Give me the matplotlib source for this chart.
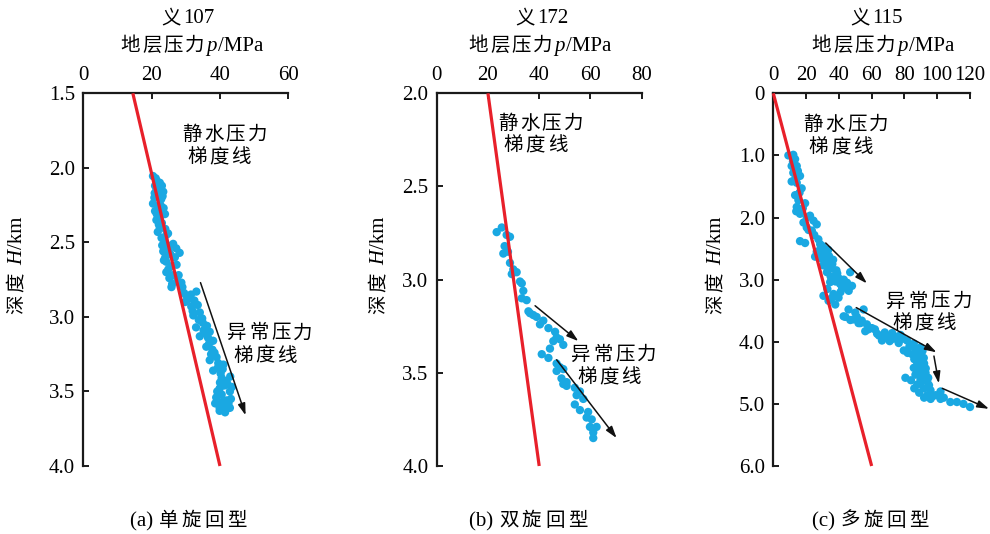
import matplotlib
matplotlib.use("Agg")
import matplotlib.pyplot as plt
from matplotlib.font_manager import FontProperties

# ---------------- data ----------------
# panel (a) 义107
a_p = [20.4,21.2,22.4,21.0,23.0,21.4,23.4,22.2,20.8,22.8,20.4,21.9,23.5,21.0,23.9,22.5,21.4,23.0,22.4,24.0,
       21.8,24.3,22.9,23.8,26.3,24.6,27.2,23.4,28.2,25.5,24.0,24.3,27.3,25.8,24.3,26.3,25.2,28.7,27.5,25.8,
       29.0,30.2,33.1,31.5,29.8,32.5,31.6,33.5,34.1,32.2,35.0,33.8,36.2,37.0,35.2,34.1,38.0,36.5,36.0,37.8,
       39.0,37.4,37.0,41.0,39.5,38.0,40.2,41.9,40.5,43.0,39.9,42.9,41.3,38.9,40.5,41.9,43.2,39.9,42.9,41.0,
       39.9,41.5,38.6,
       21.6,22.0,20.9,22.6,23.2,21.5,22.1,24.8,23.1,25.0,26.8,24.9,23.6,26.0,27.9,29.5,30.8,32.0,33.0,34.8,
       35.8,36.8,38.4,39.4,40.8,42.2,40.0,42.5,39.2,41.2,43.5,40.6]
a_H = [2.055,2.07,2.10,2.12,2.12,2.15,2.16,2.18,2.20,2.21,2.24,2.27,2.27,2.29,2.31,2.33,2.35,2.37,2.40,2.41,
       2.43,2.45,2.47,2.49,2.51,2.52,2.54,2.56,2.57,2.58,2.60,2.63,2.65,2.66,2.70,2.72,2.74,2.77,2.76,2.80,
       2.80,2.86,2.83,2.85,2.90,2.89,2.93,2.92,2.97,2.99,3.04,3.02,3.06,3.10,3.09,3.13,3.16,3.14,3.20,3.22,
       3.27,3.25,3.29,3.32,3.31,3.36,3.38,3.43,3.41,3.40,3.48,3.50,3.46,3.54,3.52,3.56,3.55,3.61,3.61,3.59,
       3.63,3.64,3.58,
       2.09,2.14,2.17,2.25,2.19,2.31,2.38,2.44,2.52,2.55,2.60,2.68,2.62,2.78,2.72,2.84,2.88,2.96,3.07,3.01,
       3.11,3.18,3.24,3.34,3.35,3.45,3.44,3.58,3.50,3.62,3.47,3.57]

# panel (b) 义172
b_p = [23.4,25.4,27.3,28.6,26.5,27.8,26.0,28.6,29.9,29.3,31.2,32.5,33.2,33.8,33.2,35.1,35.8,36.4,37.7,39.0,
       41.6,40.3,43.6,46.2,46.8,48.1,45.5,49.4,44.2,41.0,43.6,46.8,48.1,49.4,46.8,48.7,50.7,49.4,50.7,53.9,
       55.9,54.6,57.2,53.9,55.9,59.1,58.5,60.5,59.8,62.4,61.1,61.1]
b_H = [2.745,2.72,2.76,2.77,2.82,2.85,2.86,2.91,2.945,2.97,2.96,3.01,3.02,3.06,3.10,3.11,3.17,3.18,3.19,3.20,
       3.22,3.24,3.26,3.28,3.31,3.32,3.33,3.35,3.37,3.40,3.42,3.45,3.47,3.48,3.49,3.53,3.55,3.56,3.57,3.58,
       3.60,3.62,3.64,3.67,3.70,3.71,3.74,3.75,3.79,3.79,3.82,3.85]

# panel (c) 义115
c_p = [9.2,12.2,13.3,11.2,14.3,12.2,16.3,11.2,14.3,17.3,13.3,15.3,19.4,14.3,16.3,20.4,22.4,18.4,24.5,26.5,
       20.4,23.5,16.3,19.4,28.6,30.6,26.5,25.5,32.7,29.6,33.7,30.6,35.7,32.7,37.8,46.9,34.7,40.8,43.9,48.0,
       30.6,36.7,33.7,39.8,37.8,42.9,45.9,50.0,55.1,49.0,53.1,57.1,60.2,56.1,63.3,66.3,69.4,73.5,77.6,81.6,
       85.7,89.8,79.6,84.7,88.8,91.8,87.8,85.7,90.8,92.9,86.7,80.6,89.8,93.9,87.8,91.8,95.9,93.9,99.0,102.0,
       102.0,108.0,112.0,116.0,120.0,
       12.0,15.0,13.5,16.0,14.0,18.0,21.5,25.0,27.5,29.0,31.5,28.0,34.0,31.0,36.0,33.0,38.5,35.0,40.0,38.0,
       42.0,45.0,33.0,35.5,41.0,44.0,47.0,51.0,54.0,58.0,62.0,68.0,71.0,75.0,79.0,83.0,87.0,91.0,82.0,86.0,
       92.0,89.0,91.0,84.0,86.0,89.0,95.0,97.0,104.0,92.0,
       30.0,33.5,36.5,39.0,31.8,37.2,43.0,46.0,52.0,64.5,72.5,76.5,88.0,93.0,90.0,94.5,88.5,96.0]
c_H = [1.00,0.99,1.06,1.17,1.17,1.28,1.33,1.42,1.44,1.53,1.64,1.72,1.77,1.83,1.94,2.00,1.97,2.08,2.05,2.11,
       2.16,2.21,2.38,2.41,2.43,2.49,2.55,2.63,2.55,2.66,2.71,2.77,2.82,2.88,2.93,2.88,3.04,3.07,3.12,3.10,
       3.26,3.23,3.34,3.29,3.40,3.59,3.48,3.53,3.48,3.64,3.70,3.72,3.78,3.83,3.87,3.98,3.92,3.95,3.89,3.98,
       4.03,4.09,4.14,4.20,4.20,4.26,4.34,4.42,4.42,4.50,4.53,4.58,4.61,4.64,4.69,4.75,4.78,4.86,4.86,4.80,
       4.92,4.97,4.97,5.00,5.05,
       1.10,1.25,1.37,1.60,1.90,1.85,2.20,2.28,2.35,2.50,2.58,2.62,2.62,2.70,2.75,2.80,2.85,2.95,2.98,3.03,
       3.14,3.05,3.15,3.30,3.20,3.60,3.65,3.60,3.66,3.80,3.80,3.85,3.99,3.92,3.95,4.08,4.13,4.15,4.18,4.28,
       4.35,4.48,4.56,4.62,4.75,4.82,4.70,4.88,4.90,4.90,
       2.46,2.52,2.68,2.90,2.73,2.99,3.00,3.18,3.70,3.90,3.86,4.02,4.30,4.43,4.65,4.58,4.38,4.92]

# hydrostatic gradient lines (p, H) end points
a_hyd_p = [14.5, 40.0]; a_hyd_H = [1.5, 4.0]
b_hyd_p = [20.0, 40.0]; b_hyd_H = [2.0, 4.0]
c_hyd_p = [0.0, 60.0];  c_hyd_H = [0.0, 6.0]

# abnormal-pressure gradient arrows: (p0, H0, p1, H1)
a_arrows = [(34.3, 2.77, 47.5, 3.66)]
b_arrows = [(38.4, 3.14, 55.3, 3.33), (46.8, 3.43, 70.2, 3.85)]
c_arrows = [(32.0, 2.41, 57.1, 3.06), (50.6, 3.45, 99.6, 4.17),
            (98.0, 4.23, 101.0, 4.67), (103.1, 4.75, 131.6, 5.08)]

wells = ["107", "172", "115"]
captions = [("(a)", "单旋回型"), ("(b)", "双旋回型"), ("(c)", "多旋回型")]
a_xticks = [0, 20, 40, 60]; a_yticks = [1.5, 2.0, 2.5, 3.0, 3.5, 4.0]
b_xticks = [0, 20, 40, 60, 80]; b_yticks = [2.0, 2.5, 3.0, 3.5, 4.0]
c_xticks = [0, 20, 40, 60, 80, 100, 120]; c_yticks = [0, 1.0, 2.0, 3.0, 4.0, 5.0, 6.0]
c_ytick_labels = ["0", "1.0", "2.0", "3.0", "4.0", "5.0", "6.0"]

# ---------------- style ----------------
W, Hpx = 990, 534
FS = 15
serif = FontProperties(family="Liberation Serif", size=FS)
serif_it = FontProperties(family="Liberation Serif", style="italic", size=FS)
cjk = FontProperties(family="Noto Sans CJK SC", size=14)
RED = "#e8202a"
BLUE = "#1aa8e2"

fig = plt.figure(figsize=(9.9, 5.34), dpi=100)
fig.patch.set_facecolor("white")


def place_runs(cx, cy, runs, rotation=0, track=2.0):
    """Place text runs centred at cx (px) with baseline cy (px from top).
    For rotation=90, cx is the baseline x and cy the centre y."""
    r = fig.canvas.get_renderer()
    pieces = []
    for s, fp in runs:
        if fp is cjk:
            for ch in s:
                pieces.append((ch, fp, track))
        else:
            pieces.append((s, fp, 0.5))
    texts, lens = [], []
    for s, fp, g in pieces:
        t = fig.text(0, 0, s, fontproperties=fp, rotation=rotation,
                     rotation_mode="anchor", ha="left", va="baseline")
        bb = t.get_window_extent(r)
        lens.append((bb.width if rotation == 0 else bb.height) + g)
        texts.append(t)
    total = sum(lens)
    pos = 0.0
    for t, l in zip(texts, lens):
        if rotation == 0:
            x = cx - total / 2 + pos
            t.set_position((x / W, 1 - cy / Hpx))
        else:
            y = cy + total / 2 - pos
            t.set_position((cx / W, 1 - y / Hpx))
        pos += l


def ax_runs(ax, x, y, s, track=2.5):
    """CJK label with slight letter spacing, centred on data point (x, y)."""
    disp = ax.transData.transform((x, y))
    cx = disp[0]
    cy = Hpx - disp[1] + 6.5
    place_runs(cx, cy, [(s, cjk)], track=track)


panels = [
    dict(rect=(83.3, 288.3), xlim=(0, 60), ylim=(4.0, 1.5), xt=a_xticks, yt=a_yticks,
         ytl=[f"{v:.1f}" for v in a_yticks], p=a_p, H=a_H, hp=a_hyd_p, hH=a_hyd_H, arr=a_arrows,
         t1=[(41.7, 1.77, "静水压力"), (40.0, 1.918, "梯度线")],
         t2=[(55.0, 3.10, "异常压力"), (53.6, 3.25, "梯度线")],
         ylab_x=22, title_x=188, sub_x=192, cap_x=190),
    dict(rect=(436.7, 641.7), xlim=(0, 80), ylim=(4.0, 2.0), xt=b_xticks, yt=b_yticks,
         ytl=[f"{v:.1f}" for v in b_yticks], p=b_p, H=b_H, hp=b_hyd_p, hH=b_hyd_H, arr=b_arrows,
         t1=[(41.0, 2.155, "静水压力"), (39.0, 2.27, "梯度线")],
         t2=[(69.6, 3.395, "异常压力"), (67.6, 3.515, "梯度线")],
         ylab_x=384, title_x=542, sub_x=540, cap_x=530),
    dict(rect=(773.3, 970.0), xlim=(0, 120), ylim=(6.0, 0.0), xt=c_xticks, yt=c_yticks,
         ytl=c_ytick_labels, p=c_p, H=c_H, hp=c_hyd_p, hH=c_hyd_H, arr=c_arrows,
         t1=[(44.9, 0.49, "静水压力"), (41.8, 0.84, "梯度线")],
         t2=[(95.9, 3.33, "异常压力"), (92.9, 3.68, "梯度线")],
         ylab_x=721, title_x=877, sub_x=883, cap_x=872),
]

top_px, bot_px = 93.3, 466.0
for i, P in enumerate(panels):
    l, r_ = P["rect"]
    ax = fig.add_axes([l / W, 1 - bot_px / Hpx, (r_ - l) / W, (bot_px - top_px) / Hpx])
    ax.set_xlim(*P["xlim"])
    ax.set_ylim(*P["ylim"])
    for s in ["right", "bottom"]:
        ax.spines[s].set_visible(False)
    for s in ["left", "top"]:
        ax.spines[s].set_linewidth(1.6)
        ax.spines[s].set_color("#1a1a1a")
    ax.xaxis.tick_top()
    ax.set_xticks(P["xt"])
    ax.set_yticks(P["yt"])
    ax.set_yticklabels(P["ytl"])
    ax.tick_params(axis="both", direction="in", length=4, width=1.4, color="#1a1a1a",
                   labelsize=FS, pad=6)
    ax.tick_params(axis="x", pad=6)
    for lab in ax.get_xticklabels() + ax.get_yticklabels():
        lab.set_fontproperties(serif)

    ax.plot(P["hp"], P["hH"], color=RED, lw=2.3, zorder=3, clip_on=False,
            solid_capstyle="butt")
    ax.scatter(P["p"], P["H"], s=36, color=BLUE, edgecolors="none", zorder=2, clip_on=False)
    for (p0, h0, p1, h1) in P["arr"]:
        ax.annotate("", xy=(p1, h1), xytext=(p0, h0), annotation_clip=False,
                    arrowprops=dict(arrowstyle="-|>,head_length=0.7,head_width=0.22",
                                    color="#111111", lw=1.1, shrinkA=0, shrinkB=0), zorder=4)
    for (x, y, s) in P["t1"] + P["t2"]:
        ax_runs(ax, x, y, s)

    # titles and labels
    place_runs(P["title_x"], 23, [("义", cjk), (wells[i], serif)])
    place_runs(P["sub_x"], 51, [("地层压力", cjk), ("p", serif_it), ("/MPa", serif)])
    cap = captions[i]
    place_runs(P["cap_x"], 526, [(cap[0] + " ", serif), (cap[1], cjk)], track=3.5)
    place_runs(P["ylab_x"], 265, [("深度", cjk), (" ", serif), ("H", serif_it), ("/km", serif)],
               rotation=90)

fig.savefig("out.png", dpi=100, facecolor="white")
